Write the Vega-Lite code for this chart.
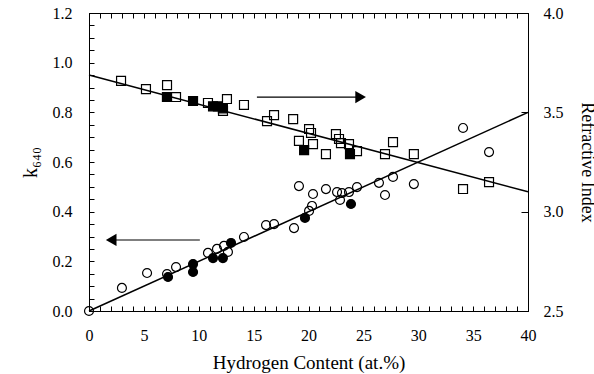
{
  "$schema": "https://vega.github.io/schema/vega-lite/v6.json",
  "width": 439,
  "height": 298,
  "autosize": {"type": "none"},
  "padding": {"left": 89, "top": 13, "right": 66, "bottom": 63},
  "background": "white",
  "config": {
    "view": {"stroke": "black", "strokeWidth": 1},
    "axis": {
      "grid": false,
      "domainColor": "black",
      "domainWidth": 1,
      "tickColor": "black",
      "tickWidth": 1,
      "labelColor": "black",
      "titleColor": "black",
      "labelFont": "Liberation Serif",
      "titleFont": "Liberation Serif",
      "labelFontSize": 16,
      "titleFontSize": 19,
      "titleFontWeight": "normal"
    }
  },
  "resolve": {"scale": {"y": "independent"}},
  "layer": [
    {
      "data": {"values": [
        {"h": 0, "k": 0, "type": "open"}, {"h": 3.0, "k": 0.093, "type": "open"}, {"h": 5.29, "k": 0.153, "type": "open"},
        {"h": 7.11, "k": 0.149, "type": "open"}, {"h": 7.93, "k": 0.177, "type": "open"}, {"h": 10.84, "k": 0.234, "type": "open"},
        {"h": 11.66, "k": 0.25, "type": "open"}, {"h": 12.3, "k": 0.262, "type": "open"}, {"h": 12.66, "k": 0.238, "type": "open"},
        {"h": 14.12, "k": 0.298, "type": "open"}, {"h": 16.13, "k": 0.346, "type": "open"}, {"h": 16.86, "k": 0.35, "type": "open"},
        {"h": 18.68, "k": 0.334, "type": "open"}, {"h": 19.13, "k": 0.503, "type": "open"}, {"h": 20.41, "k": 0.471, "type": "open"},
        {"h": 21.59, "k": 0.491, "type": "open"}, {"h": 22.6, "k": 0.479, "type": "open"}, {"h": 23.05, "k": 0.475, "type": "open"},
        {"h": 23.69, "k": 0.479, "type": "open"}, {"h": 24.42, "k": 0.499, "type": "open"}, {"h": 22.87, "k": 0.447, "type": "open"},
        {"h": 20.32, "k": 0.423, "type": "open"}, {"h": 20.05, "k": 0.403, "type": "open"}, {"h": 26.42, "k": 0.516, "type": "open"},
        {"h": 27.7, "k": 0.54, "type": "open"}, {"h": 26.97, "k": 0.467, "type": "open"}, {"h": 29.6, "k": 0.511, "type": "open"},
        {"h": 34.08, "k": 0.737, "type": "open"}, {"h": 36.45, "k": 0.64, "type": "open"},
        {"h": 7.2, "k": 0.137, "type": "filled"}, {"h": 9.48, "k": 0.189, "type": "filled"}, {"h": 9.48, "k": 0.157, "type": "filled"},
        {"h": 11.3, "k": 0.213, "type": "filled"}, {"h": 12.2, "k": 0.213, "type": "filled"}, {"h": 12.94, "k": 0.274, "type": "filled"},
        {"h": 19.68, "k": 0.375, "type": "filled"}, {"h": 23.87, "k": 0.431, "type": "filled"}
      ]},
      "mark": {"type": "point", "shape": "circle", "size": 80, "filled": true, "stroke": "black", "strokeWidth": 1.2, "opacity": 1},
      "encoding": {
        "x": {
          "field": "h", "type": "quantitative",
          "scale": {"domain": [0, 40], "nice": false, "zero": false},
          "axis": {
            "orient": "bottom",
            "title": "Hydrogen Content (at.%)",
            "values": [0,1,2,3,4,5,6,7,8,9,10,11,12,13,14,15,16,17,18,19,20,21,22,23,24,25,26,27,28,29,30,31,32,33,34,35,36,37,38,39,40],
            "labelExpr": "datum.value % 5 === 0 ? datum.label : ''",
            "tickSize": -5,
            "labelPadding": 21,
            "labelFlush": false,
            "labelOverlap": false,
            "titlePadding": 10
          }
        },
        "y": {
          "field": "k", "type": "quantitative",
          "scale": {"domain": [0, 1.2], "nice": false, "zero": false},
          "axis": {
            "orient": "left",
            "title": "k₆₄₀",
            "titleFontSize": 20,
            "values": [0,0.05,0.1,0.15,0.2,0.25,0.3,0.35,0.4,0.45,0.5,0.55,0.6,0.65,0.7,0.75,0.8,0.85,0.9,0.95,1.0,1.05,1.1,1.15,1.2],
            "format": ".1f",
            "labelExpr": "abs(datum.value*5 - round(datum.value*5)) < 0.001 ? datum.label : ''",
            "tickSize": -5,
            "labelPadding": 22,
            "labelFlush": false,
            "labelOverlap": false,
            "titlePadding": 12
          }
        },
        "fill": {"field": "type", "type": "nominal", "scale": {"domain": ["open", "filled"], "range": ["rgba(0,0,0,0)", "black"]}, "legend": null}
      }
    },
    {
      "data": {"values": [{"h": 0, "k": 0}, {"h": 40, "k": 0.8}]},
      "mark": {"type": "line", "color": "black", "strokeWidth": 1.5},
      "encoding": {
        "x": {"field": "h", "type": "quantitative", "axis": null},
        "y": {"field": "k", "type": "quantitative", "scale": {"domain": [0, 1.2], "nice": false, "zero": false}, "axis": null}
      }
    },
    {
      "data": {"values": [{"h": 2.0, "h2": 10.1, "k": 0.286}]},
      "mark": {"type": "rule", "color": "black", "strokeWidth": 1.2},
      "encoding": {
        "x": {"field": "h", "type": "quantitative", "axis": null},
        "x2": {"field": "h2"},
        "y": {"field": "k", "type": "quantitative", "scale": {"domain": [0, 1.2], "nice": false, "zero": false}, "axis": null}
      }
    },
    {
      "data": {"values": [{"h": 2.02, "k": 0.286}]},
      "mark": {"type": "point", "shape": "triangle-left", "size": 150, "filled": true, "color": "black", "opacity": 1},
      "encoding": {
        "x": {"field": "h", "type": "quantitative", "axis": null},
        "y": {"field": "k", "type": "quantitative", "scale": {"domain": [0, 1.2], "nice": false, "zero": false}, "axis": null}
      }
    },
    {
      "data": {"values": [
        {"h": 2.92, "n": 3.658, "type": "open"}, {"h": 5.19, "n": 3.617, "type": "open"}, {"h": 7.11, "n": 3.637, "type": "open"},
        {"h": 7.93, "n": 3.577, "type": "open"}, {"h": 10.84, "n": 3.547, "type": "open"}, {"h": 12.57, "n": 3.567, "type": "open"},
        {"h": 12.21, "n": 3.507, "type": "open"}, {"h": 14.12, "n": 3.537, "type": "open"}, {"h": 16.22, "n": 3.456, "type": "open"},
        {"h": 16.86, "n": 3.486, "type": "open"}, {"h": 18.6, "n": 3.466, "type": "open"}, {"h": 20.05, "n": 3.416, "type": "open"},
        {"h": 20.23, "n": 3.396, "type": "open"}, {"h": 19.13, "n": 3.356, "type": "open"}, {"h": 20.41, "n": 3.34, "type": "open"},
        {"h": 21.59, "n": 3.29, "type": "open"}, {"h": 22.5, "n": 3.39, "type": "open"}, {"h": 22.78, "n": 3.366, "type": "open"},
        {"h": 22.96, "n": 3.345, "type": "open"}, {"h": 23.69, "n": 3.34, "type": "open"}, {"h": 24.42, "n": 3.305, "type": "open"},
        {"h": 27.7, "n": 3.35, "type": "open"}, {"h": 26.97, "n": 3.29, "type": "open"}, {"h": 29.6, "n": 3.29, "type": "open"},
        {"h": 34.08, "n": 3.114, "type": "open"}, {"h": 36.45, "n": 3.149, "type": "open"},
        {"h": 7.1, "n": 3.577, "type": "filled"}, {"h": 9.48, "n": 3.557, "type": "filled"}, {"h": 11.3, "n": 3.53, "type": "filled"},
        {"h": 11.75, "n": 3.53, "type": "filled"}, {"h": 12.2, "n": 3.52, "type": "filled"}, {"h": 19.6, "n": 3.31, "type": "filled"},
        {"h": 23.78, "n": 3.29, "type": "filled"}
      ]},
      "mark": {"type": "point", "shape": "square", "size": 80, "filled": true, "stroke": "black", "strokeWidth": 1.2, "opacity": 1},
      "encoding": {
        "x": {
          "field": "h", "type": "quantitative",
          "axis": {
            "orient": "top",
            "title": null,
            "values": [0,1,2,3,4,5,6,7,8,9,10,11,12,13,14,15,16,17,18,19,20,21,22,23,24,25,26,27,28,29,30,31,32,33,34,35,36,37,38,39,40],
            "labels": false,
            "tickSize": -5
          }
        },
        "y": {
          "field": "n", "type": "quantitative",
          "scale": {"domain": [2.5, 4.0], "nice": false, "zero": false},
          "axis": {
            "orient": "right",
            "title": "Refractive Index",
            "titleFontSize": 18,
            "titleAngle": 90,
            "values": [2.5, 3.0, 3.5, 4.0],
            "format": ".1f",
            "tickSize": -7,
            "labelPadding": 22,
            "labelFlush": false,
            "labelOverlap": false,
            "titlePadding": 14
          }
        },
        "fill": {"field": "type", "type": "nominal", "scale": {"domain": ["open", "filled"], "range": ["rgba(0,0,0,0)", "black"]}, "legend": null}
      }
    },
    {
      "data": {"values": [{"h": 0, "n": 3.688}, {"h": 40, "n": 3.1}]},
      "mark": {"type": "line", "color": "black", "strokeWidth": 1.5},
      "encoding": {
        "x": {"field": "h", "type": "quantitative", "axis": null},
        "y": {"field": "n", "type": "quantitative", "scale": {"domain": [2.5, 4.0], "nice": false, "zero": false}, "axis": null}
      }
    },
    {
      "data": {"values": [{"h": 15.3, "h2": 24.75, "n": 3.577}]},
      "mark": {"type": "rule", "color": "black", "strokeWidth": 1.2},
      "encoding": {
        "x": {"field": "h", "type": "quantitative", "axis": null},
        "x2": {"field": "h2"},
        "y": {"field": "n", "type": "quantitative", "scale": {"domain": [2.5, 4.0], "nice": false, "zero": false}, "axis": null}
      }
    },
    {
      "data": {"values": [{"h": 24.75, "n": 3.577}]},
      "mark": {"type": "point", "shape": "triangle-right", "size": 150, "filled": true, "color": "black", "opacity": 1},
      "encoding": {
        "x": {"field": "h", "type": "quantitative", "axis": null},
        "y": {"field": "n", "type": "quantitative", "scale": {"domain": [2.5, 4.0], "nice": false, "zero": false}, "axis": null}
      }
    }
  ]
}
